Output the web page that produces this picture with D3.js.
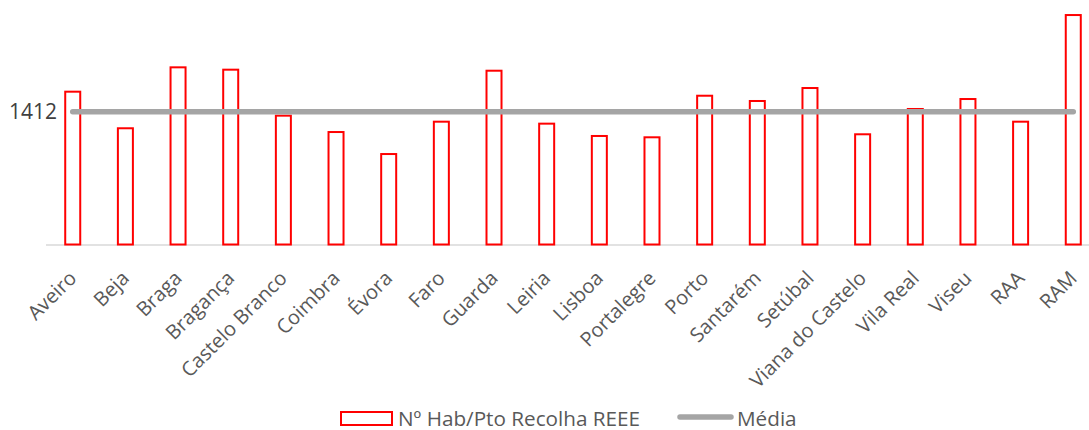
<!DOCTYPE html>
<html>
<head>
<meta charset="utf-8">
<script src="https://cdn.jsdelivr.net/npm/d3@7"></script>
<style>
  body { margin: 0; background: #fff; }
  svg { font-family: "Open Sans", sans-serif; }
</style>
</head>
<body>
<svg width="1089" height="430"></svg>
<script>
// districts / regions on the x axis
const regioes = ['Aveiro', 'Beja', 'Braga', 'Bragança', 'Castelo Branco', 'Coimbra', 'Évora', 'Faro',
  'Guarda', 'Leiria', 'Lisboa', 'Portalegre', 'Porto', 'Santarém', 'Setúbal', 'Viana do Castelo',
  'Vila Real', 'Viseu', 'RAA', 'RAM'];

// Nº Hab/Pto Recolha REEE
const habPorPonto = [1625, 1236, 1884, 1859, 1370, 1196, 962, 1306, 1848, 1285,
  1154, 1140, 1582, 1526, 1664, 1172, 1441, 1547, 1306, 2440];

const media = 1412;
const yMax = 2500;

const svg = d3.select('svg');

const x = d3.scaleBand()
  .domain(regioes)
  .range([46.4, 1099.6])
  .paddingInner(0.677)
  .paddingOuter(0.3385);

const y = d3.scaleLinear()
  .domain([0, yMax])
  .range([244.5, 9.4]);

// category axis line
svg.append('line')
  .attr('x1', 46).attr('x2', 1089)
  .attr('y1', y(0) + 0.5).attr('y2', y(0) + 0.5)
  .attr('stroke', '#d9d9d9')
  .attr('stroke-width', 1.5);

// bars
svg.selectAll('.bar')
  .data(habPorPonto)
  .enter()
  .append('rect')
  .attr('class', 'bar')
  .attr('x', (d, i) => x(regioes[i]) + 1)
  .attr('width', x.bandwidth() - 2)
  .attr('y', d => y(d))
  .attr('height', d => y(0) - y(d))
  .attr('fill', '#fff')
  .attr('stroke', '#ff0000')
  .attr('stroke-width', 2);

// average line
const cx = r => x(r) + x.bandwidth() / 2;
svg.append('line')
  .attr('x1', cx(regioes[0])).attr('x2', cx(regioes[regioes.length - 1]))
  .attr('y1', y(media)).attr('y2', y(media))
  .attr('stroke', '#a5a5a5')
  .attr('stroke-width', 5.5)
  .attr('stroke-linecap', 'round');

// value label of the mean
svg.append('text')
  .attr('x', 57)
  .attr('y', y(media))
  .attr('dy', '0.36em')
  .attr('text-anchor', 'end')
  .attr('fill', '#404040')
  .attr('font-size', 21)
  .text(media);

// rotated category labels
svg.selectAll('.lbl')
  .data(regioes)
  .enter()
  .append('text')
  .attr('class', 'lbl')
  .attr('text-anchor', 'end')
  .attr('font-size', 20)
  .attr('fill', '#595959')
  .attr('transform', d => `translate(${cx(d) + 5},${y(0) + 35}) rotate(-45)`)
  .text(d => d);

// legend
const leg = svg.append('g');
leg.append('rect')
  .attr('x', 341).attr('y', 412)
  .attr('width', 51).attr('height', 13)
  .attr('fill', '#fff')
  .attr('stroke', '#ff0000')
  .attr('stroke-width', 2);
leg.append('text')
  .attr('x', 398).attr('y', 425.5)
  .attr('font-size', 20.7)
  .attr('fill', '#595959')
  .text('Nº Hab/Pto Recolha REEE');
leg.append('line')
  .attr('x1', 680).attr('x2', 731)
  .attr('y1', 417).attr('y2', 417)
  .attr('stroke', '#a5a5a5')
  .attr('stroke-width', 5.5)
  .attr('stroke-linecap', 'round');
leg.append('text')
  .attr('x', 737).attr('y', 425.5)
  .attr('font-size', 20.7)
  .attr('fill', '#595959')
  .text('Média');
</script>
</body>
</html>
